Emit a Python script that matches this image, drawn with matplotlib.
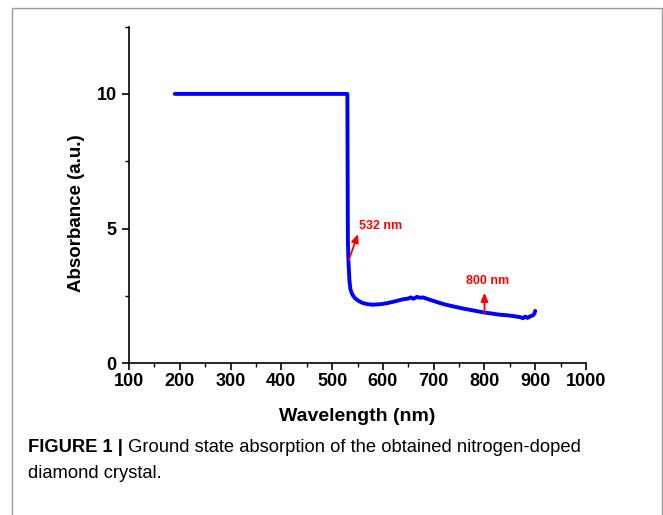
import matplotlib
matplotlib.use('Agg')
import matplotlib.pyplot as plt
from matplotlib.patches import Rectangle
from matplotlib.ticker import MultipleLocator
from matplotlib import font_manager

# absorption spectrum
wavelength = [190, 300, 420, 529, 530, 531, 532, 534, 536, 540, 545, 552, 561, 570, 580,
              595, 609, 625, 639, 650, 655, 660, 667, 672, 679, 690, 706, 720, 738,
              760, 780, 797, 815, 830, 844, 860, 870, 876, 880, 885, 890, 895, 898, 900]
absorbance = [10.0, 10.0, 10.0, 10.0, 10.0, 4.6, 3.85, 3.1, 2.75, 2.55, 2.42, 2.32, 2.24, 2.2, 2.18,
              2.2, 2.24, 2.31, 2.38, 2.41, 2.45, 2.4, 2.47, 2.44, 2.45, 2.38, 2.28, 2.2, 2.12,
              2.03, 1.96, 1.9, 1.85, 1.81, 1.79, 1.75, 1.72, 1.68, 1.74, 1.69, 1.75, 1.78, 1.84, 1.95]

marks = ['532 nm', '800 nm']
mark_start = [(533, 3.85), (800, 1.85)]
mark_end = [(551, 4.8), (800, 2.62)]
mark_text = [(552, 5.1), (806, 3.05)]

caption_bold = 'FIGURE 1 |'
caption_rest = ' Ground state absorption of the obtained nitrogen-doped'
caption_line2 = 'diamond crystal.'

plt.rcParams['font.family'] = ['Liberation Sans', 'DejaVu Sans']

fig = plt.figure(figsize=(6.63, 5.15), dpi=100)
fig.patches.append(Rectangle((12 / 663, -0.05), 650 / 663, 1 - 8 / 515 + 0.05,
                             transform=fig.transFigure, fill=False,
                             edgecolor='#999999', linewidth=1.0))

ax = fig.add_axes([0.1946, 0.2942, 0.6893, 0.6543])
ax.plot(wavelength, absorbance, color='#0000ff', linewidth=2.8,
        solid_capstyle='round', solid_joinstyle='round')

for lab, s, e, t in zip(marks, mark_start, mark_end, mark_text):
    ax.annotate('', xy=e, xytext=s,
                arrowprops=dict(arrowstyle='-|>,head_length=0.5,head_width=0.22',
                                color='#ff0000', lw=1.3, shrinkA=0, shrinkB=0))
    ha = 'left' if lab.startswith('532') else 'center'
    ax.text(t[0], t[1], lab, color='#ff0000', fontsize=9, fontweight='bold',
            ha=ha, va='center')

ax.set_xlim(100, 1000)
ax.set_ylim(0, 12.5)
ax.xaxis.set_major_locator(MultipleLocator(100))
ax.xaxis.set_minor_locator(MultipleLocator(50))
ax.yaxis.set_major_locator(MultipleLocator(5))
ax.yaxis.set_minor_locator(MultipleLocator(2.5))
for s in ['top', 'right']:
    ax.spines[s].set_visible(False)
for s in ['left', 'bottom']:
    ax.spines[s].set_linewidth(1.2)
ax.tick_params(which='major', direction='out', length=5, width=1.2, labelsize=13, pad=2)
ax.tick_params(axis='y', which='major', pad=4)
ax.tick_params(which='minor', direction='out', length=3, width=1.0)
for lbl in ax.get_xticklabels() + ax.get_yticklabels():
    lbl.set_fontweight('bold')

ax.set_xlabel('Wavelength (nm)', fontsize=14, fontweight='bold', labelpad=13)
ax.set_ylabel('Absorbance (a.u.)', fontsize=13.5, fontweight='bold')
ax.yaxis.set_label_coords(-0.096, 0.447)

names = {f.name for f in font_manager.fontManager.ttflist}
cap_font = 'Liberation Sans Narrow' if 'Liberation Sans Narrow' in names else 'Liberation Sans'
t1 = fig.text(28 / 663, 1 - 447 / 515, caption_bold, fontsize=13.2, fontweight='bold',
              family=cap_font, va='center', ha='left')
fig.canvas.draw()
bb = t1.get_window_extent()
fig.text(bb.x1 / 663, 1 - 447 / 515, caption_rest, fontsize=13.2, family=cap_font,
         va='center', ha='left')
fig.text(28 / 663, 1 - 473 / 515, caption_line2, fontsize=13.2, family=cap_font,
         va='center', ha='left')

fig.savefig('out.png', dpi=100)
